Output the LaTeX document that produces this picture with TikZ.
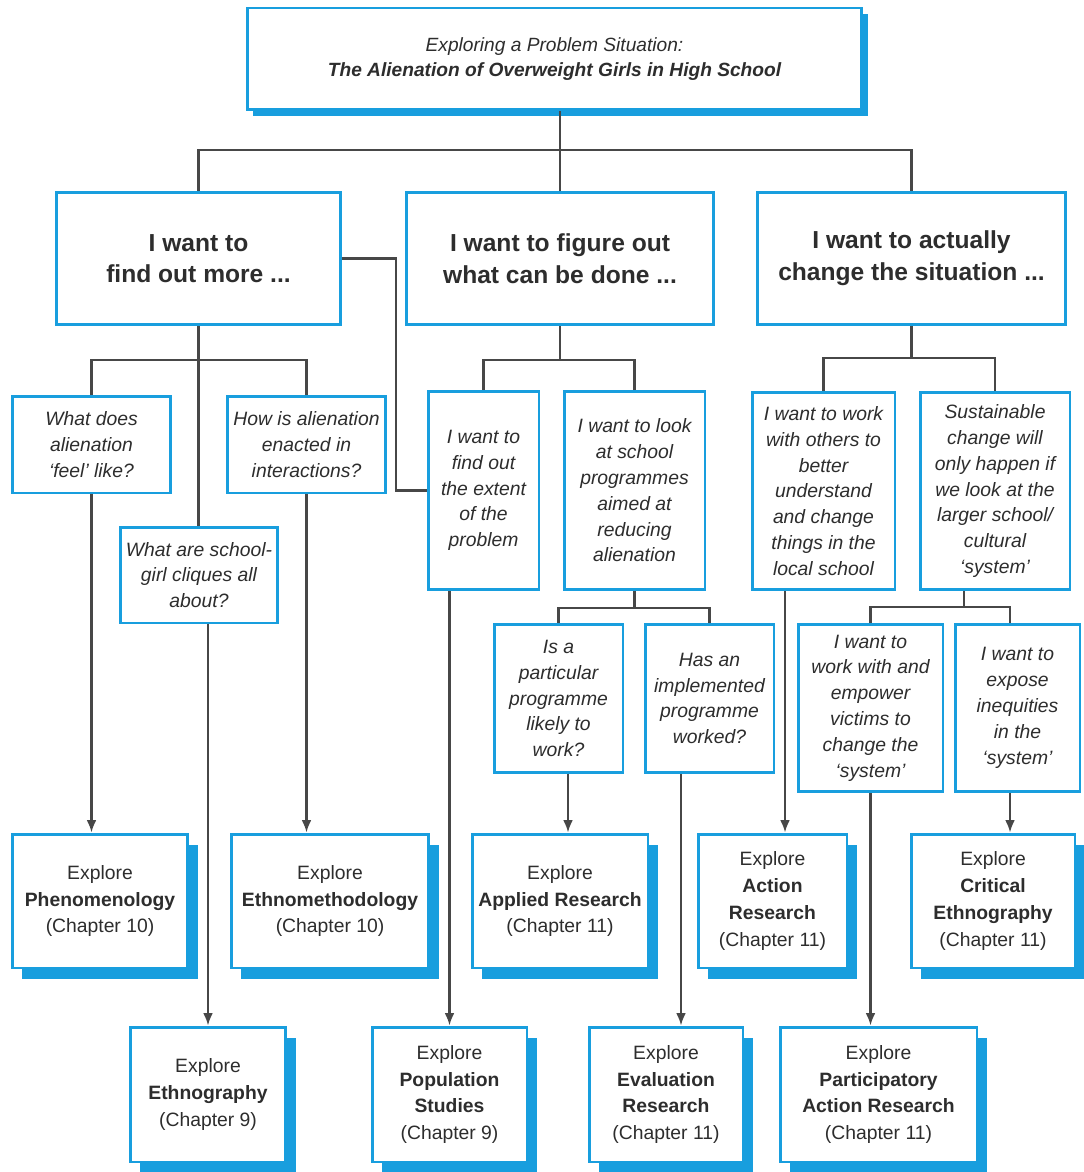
\documentclass[tikz,border=0pt]{standalone}
\usepackage{fontspec}
\setmainfont{Liberation Sans}
\usepackage{xcolor}
\usetikzlibrary{positioning,arrows.meta,shadows}
\definecolor{boxblue}{RGB}{24,158,222}
\definecolor{txtgray}{RGB}{45,45,45}

\begin{document}
\begin{tikzpicture}[
  x=0.02cm, y=-0.02cm,
  topbox/.style={rectangle, draw=boxblue, line width=1.7pt, fill=white, text=txtgray, minimum width=12.3cm, minimum height=2.04cm, align=center, font=\fontsize{10.9}{14.7}\selectfont\itshape, drop shadow={shadow xshift=0.12cm, shadow yshift=-0.12cm, fill=boxblue, opacity=1}},
  headbox/.style={rectangle, draw=boxblue, line width=1.7pt, fill=white, text=txtgray, minimum height=2.66cm, align=center, font=\fontsize{14}{18}\selectfont\bfseries},
  qbox/.style={rectangle, draw=boxblue, line width=1.7pt, fill=white, text=txtgray, align=center, inner sep=1pt, font=\fontsize{11}{14.7}\selectfont\itshape},
  explore/.style={rectangle, draw=boxblue, line width=1.7pt, fill=white, text=txtgray, align=center, font=\fontsize{11}{15.3}\selectfont, drop shadow={shadow xshift=0.2cm, shadow yshift=-0.22cm, fill=boxblue, opacity=1}},
  link/.style={line width=1.2pt, black!72},
  arr/.style={link, -{Latex[length=7pt,width=5.5pt]}}
]
\useasboundingbox (0,0) rectangle (1084,1172);

% problem
\node[topbox] (top) at (554.5,59) {Exploring a Problem Situation:\\\textbf{The Alienation of Overweight Girls in High School}};

% three aims
\node[headbox, minimum width=5.7cm] (find) at (198.5,258.5) {I want to\\find out more ...};
\node[headbox, minimum width=6.16cm] (figure) at (560,258.5) {I want to figure out\\what can be done ...};
\node[headbox, minimum width=6.18cm] (change) at (911.5,258.5) {I want to actually\\change the situation ...};

% questions
\node[qbox, minimum width=3.18cm, minimum height=1.94cm] (feel) at (91.5,444.5) {What does\\alienation\\`feel' like?};
\node[qbox, minimum width=3.18cm, minimum height=1.94cm] (enact) at (306.5,444.5) {How is alienation\\enacted in\\interactions?};
\node[qbox, minimum width=3.16cm, minimum height=1.92cm] (cliques) at (199,575) {What are school-\\girl cliques all\\about?};
\node[qbox, minimum width=2.22cm, minimum height=3.98cm] (extent) at (483.5,490.5) {I want to\\find out\\the extent\\of the\\problem};
\node[qbox, minimum width=2.82cm, minimum height=3.98cm] (progs) at (634.5,490.5) {I want to look\\at school\\programmes\\aimed at\\reducing\\alienation};
\node[qbox, minimum width=2.58cm, minimum height=2.98cm] (likely) at (558.5,698.5) {Is a\\particular\\programme\\likely to\\work?};
\node[qbox, minimum width=2.58cm, minimum height=2.98cm] (worked) at (709.5,698.5) {Has an\\implemented\\programme\\worked?};
\node[qbox, minimum width=2.86cm, minimum height=3.96cm] (local) at (823.5,491) {I want to work\\with others to\\better\\understand\\and change\\things in the\\local school};
\node[qbox, minimum width=3.0cm, minimum height=3.96cm] (system) at (995,491) {Sustainable\\change will\\only happen if\\we look at the\\larger school/\\cultural\\`system'};
\node[qbox, minimum width=2.9cm, minimum height=3.36cm] (empower) at (870.5,708) {I want to\\work with and\\empower\\victims to\\change the\\`system'};
\node[qbox, minimum width=2.5cm, minimum height=3.36cm] (expose) at (1017.5,708) {I want to\\expose\\inequities\\in the\\`system'};

% methods
\node[explore, minimum width=3.52cm, minimum height=2.68cm] (phen) at (100,901) {Explore\\\textbf{Phenomenology}\\(Chapter 10)};
\node[explore, minimum width=3.96cm, minimum height=2.68cm] (ethmeth) at (330,901) {Explore\\\textbf{Ethnomethodology}\\(Chapter 10)};
\node[explore, minimum width=3.52cm, minimum height=2.68cm] (applied) at (560,901) {Explore\\\textbf{Applied Research}\\(Chapter 11)};
\node[explore, minimum width=2.98cm, minimum height=2.68cm] (action) at (772.5,901) {Explore\\\textbf{Action}\\\textbf{Research}\\(Chapter 11)};
\node[explore, minimum width=3.28cm, minimum height=2.68cm] (critical) at (993,901) {Explore\\\textbf{Critical}\\\textbf{Ethnography}\\(Chapter 11)};
\node[explore, minimum width=3.12cm, minimum height=2.7cm] (ethnog) at (208,1094.5) {Explore\\\textbf{Ethnography}\\(Chapter 9)};
\node[explore, minimum width=3.1cm, minimum height=2.7cm] (popstud) at (449.5,1094.5) {Explore\\\textbf{Population}\\\textbf{Studies}\\(Chapter 9)};
\node[explore, minimum width=3.08cm, minimum height=2.7cm] (eval) at (666,1094.5) {Explore\\\textbf{Evaluation}\\\textbf{Research}\\(Chapter 11)};
\node[explore, minimum width=3.94cm, minimum height=2.7cm] (par) at (878.5,1094.5) {Explore\\\textbf{Participatory}\\\textbf{Action Research}\\(Chapter 11)};

% junctions
\coordinate (j0) at (560,150);
\coordinate (ja) at (198.5,360);
\coordinate (jb) at (560,360);
\coordinate (jc) at (911.5,358);
\coordinate (jb2) at (634.5,608);
\coordinate (jc2) at (964,607);
\coordinate (bend) at (396,0);
\coordinate (likelyout) at (568,0);
\coordinate (workedout) at (681,0);
\coordinate (localout) at (785,0);
\coordinate (exposeout) at (1010,0);

% tree
\draw[link] (top.south -| j0) -- (j0);
\draw[link] (find.north) |- (j0) -| (change.north);
\draw[link] (j0) -- (figure.north);
\draw[link] (find.south) -- (ja);
\draw[link] (feel.north) |- (ja) -| (enact.north);
\draw[link] (ja) -- (cliques.north -| ja);
\draw[link] (find.east) -| (bend |- extent.west) -- (extent.west);
\draw[link] (figure.south) -- (jb);
\draw[link] (extent.north) |- (jb) -| (progs.north);
\draw[link] (progs.south) -- (jb2);
\draw[link] (likely.north) |- (jb2) -| (worked.north);
\draw[link] (change.south) -- (jc);
\draw[link] (local.north) |- (jc) -| (system.north);
\draw[link] (system.south -| jc2) -- (jc2);
\draw[link] (empower.north) |- (jc2) -| (exposeout |- expose.north);

% to methods
\draw[arr] (feel.south) -- (feel.south |- phen.north);
\draw[arr] (enact.south) -- (enact.south |- ethmeth.north);
\draw[arr] (cliques.south -| ethnog.north) -- (ethnog.north);
\draw[arr] (extent.south -| popstud.north) -- (popstud.north);
\draw[arr] (likelyout |- likely.south) -- (likelyout |- applied.north);
\draw[arr] (workedout |- worked.south) -- (workedout |- eval.north);
\draw[arr] (localout |- local.south) -- (localout |- action.north);
\draw[arr] (empower.south) -- (empower.south |- par.north);
\draw[arr] (exposeout |- expose.south) -- (exposeout |- critical.north);
\end{tikzpicture}
\end{document}
